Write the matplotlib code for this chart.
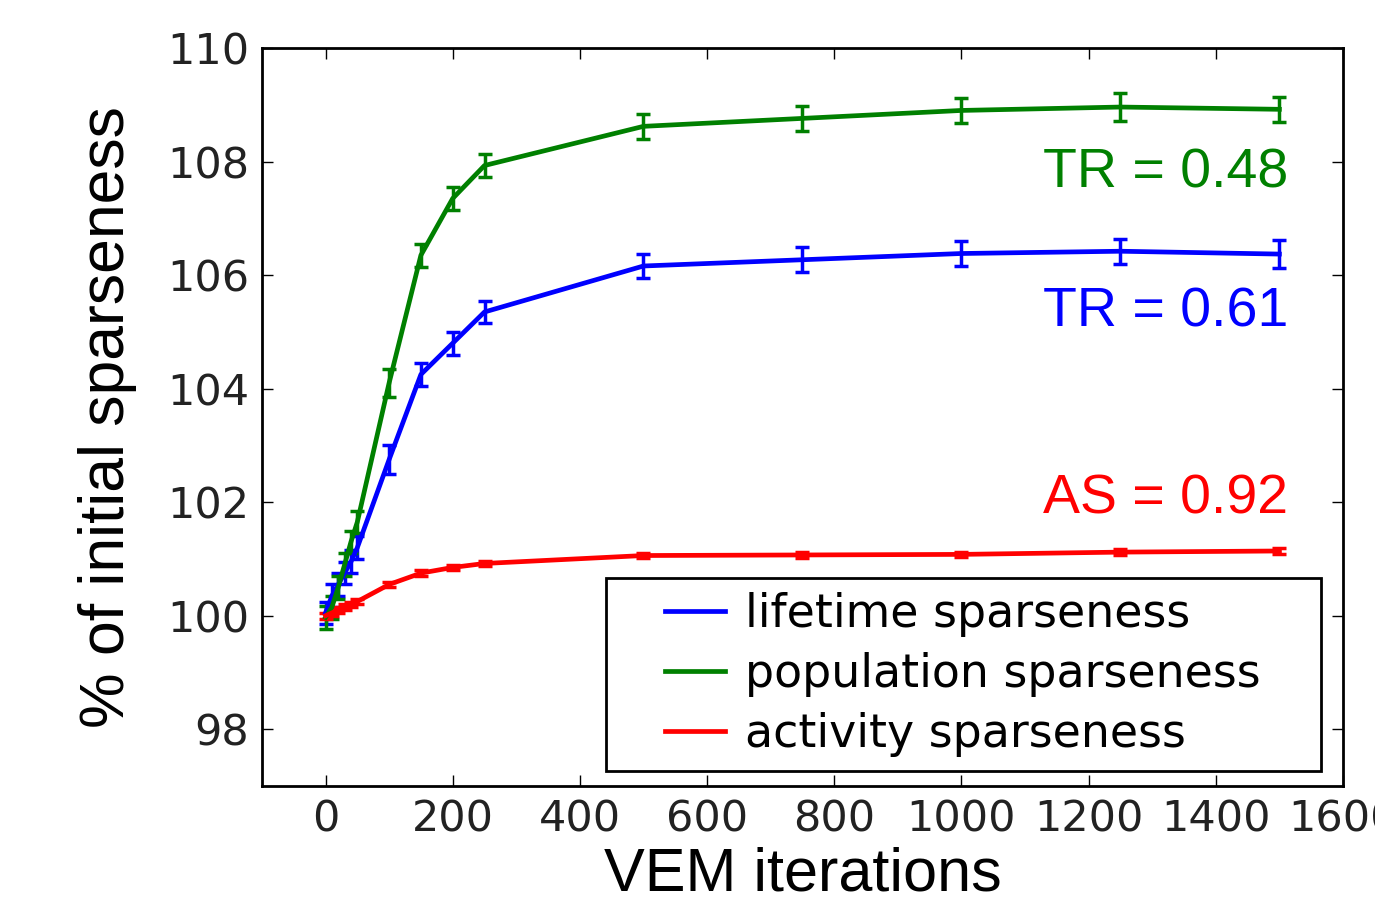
import matplotlib
matplotlib.use("Agg")
import matplotlib.pyplot as plt
from matplotlib.path import Path

# VEM iterations at which sparseness was measured
iterations = [0, 10, 20, 30, 40, 50, 100, 150, 200, 250, 500, 750, 1000, 1250, 1500]

# % of initial sparseness
lifetime = [100.05, 100.35, 100.55, 100.75, 100.95, 101.2, 102.75, 104.25, 104.8, 105.35,
            106.16, 106.27, 106.38, 106.42, 106.37]
population = [99.97, 100.15, 100.5, 100.9, 101.3, 101.65, 104.1, 106.35, 107.35, 107.93,
              108.62, 108.76, 108.9, 108.96, 108.92]
activity = [100.0, 100.05, 100.1, 100.15, 100.2, 100.25, 100.55, 100.75, 100.85, 100.92,
            101.06, 101.07, 101.08, 101.12, 101.14]

lifetime_err = [0.2, 0.2, 0.2, 0.2, 0.2, 0.2, 0.25, 0.2, 0.2, 0.2, 0.22, 0.22, 0.22, 0.22, 0.25]
population_err = [0.2, 0.2, 0.2, 0.2, 0.2, 0.2, 0.25, 0.2, 0.2, 0.2, 0.22, 0.22, 0.22, 0.25, 0.22]
activity_err = [0.05] * 15

labels = ["lifetime sparseness", "population sparseness", "activity sparseness"]
notes = ["TR = 0.61", "TR = 0.48", "AS = 0.92"]
note_y = [105.1, 107.55, 101.8]

sans = ["Liberation Sans", "DejaVu Sans"]


def wide_frame(x0, y0, width, height, mutation_size):
    # legend frame with extra room left and right only
    px = 1.0 * mutation_size
    return Path([(x0 - px, y0), (x0 + width + px, y0), (x0 + width + px, y0 + height),
                 (x0 - px, y0 + height), (x0 - px, y0)], closed=True)


fig = plt.figure(figsize=(13.75, 9.09), dpi=100)
ax = fig.add_axes([0.1905, 0.1353, 0.7862, 0.8119])

colors = ["b", "g", "r"]
series = [lifetime, population, activity]
errs = [lifetime_err, population_err, activity_err]
for vals, err, c, lab in zip(series, errs, colors, labels):
    ax.errorbar(iterations, vals, yerr=err, color=c, lw=3.4, elinewidth=2.5,
                capsize=5, capthick=2.5, label=lab)

for txt, y, c in zip(notes, note_y, colors):
    ax.text(1514, y, txt, color=c, ha="right", va="baseline",
            fontsize=40, family=sans)

ax.set_xlim(-100, 1600)
ax.set_ylim(97, 110)
ax.set_xticks(range(0, 1601, 200))
ax.set_yticks(range(98, 111, 2))
ax.tick_params(direction="in", top=True, right=True, length=8, width=1,
               labelsize=31, labelcolor="#222222", pad=9)
for s in ax.spines.values():
    s.set_linewidth(2)

ax.set_xlabel("VEM iterations", fontsize=44, family=sans, labelpad=4)
ax.set_ylabel("% of initial sparseness", fontsize=45, family=sans, labelpad=22)

handles, hl = ax.get_legend_handles_labels()
leg = ax.legend([h[0] for h in handles], hl, loc="lower right",
                bbox_to_anchor=(0.937, 0.0203), borderaxespad=0,
                fancybox=False, framealpha=1, edgecolor="black",
                handlelength=1.3, handletextpad=0.45, borderpad=0.3,
                labelspacing=0.33, prop={"size": 33})
leg.get_frame().set_linewidth(2)
leg.get_frame().set_boxstyle(wide_frame)

fig.savefig("out.png", dpi=100)
